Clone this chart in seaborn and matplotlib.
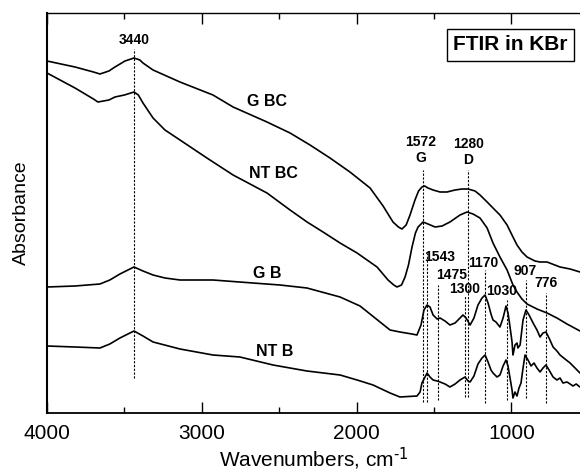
import numpy as np
import pandas as pd
import matplotlib
matplotlib.use("Agg")
import matplotlib.pyplot as plt
from matplotlib.ticker import MultipleLocator, NullLocator
import seaborn as sns

# ---------------- data ----------------
gbc_wn = [4000, 3819, 3700, 3658, 3600, 3561, 3496, 3438, 3400, 3380, 3315, 3141, 2928, 2798,
          2579, 2430, 2301, 2172, 2043, 1913, 1829, 1765, 1730, 1707, 1680, 1655, 1623, 1600,
          1578, 1560, 1539, 1506, 1461, 1416, 1364, 1319, 1280, 1235, 1203, 1157, 1119, 1074,
          1028, 990, 964, 932, 899, 848, 815, 770, 686, 621, 557]
gbc_ab = [352, 346, 341, 339, 342, 346, 352, 355, 353, 350, 343, 331, 318, 306,
          291, 280, 268, 255, 241, 225, 207, 191, 186, 184, 188, 198, 213, 222,
          226, 227, 225, 223, 221, 221, 223, 224, 224, 222, 218, 211, 205, 198,
          188, 176, 168, 161, 156, 152, 151, 151, 146, 144, 141]

ntbc_wn = [4000, 3819, 3700, 3671, 3600, 3561, 3500, 3438, 3410, 3380, 3315, 3238, 3141, 2967,
           2798, 2579, 2430, 2320, 2217, 2107, 1997, 1868, 1797, 1760, 1739, 1710, 1687, 1665,
           1642, 1620, 1603, 1571, 1539, 1493, 1448, 1397, 1332, 1287, 1248, 1203, 1157, 1119,
           1074, 1028, 990, 964, 932, 899, 835, 770, 706, 641, 557]
ntbc_ab = [340, 325, 314, 311, 313, 316, 318, 321, 318, 310, 295, 283, 273, 255,
           238, 220, 203, 191, 181, 170, 160, 146, 133, 128, 126, 128, 136, 148,
           166, 180, 186, 191, 189, 186, 187, 191, 198, 201, 199, 195, 185, 170,
           156, 143, 128, 121, 114, 109, 104, 100, 95, 89, 82]

gb_wn = [4000, 3819, 3658, 3594, 3529, 3438, 3380, 3315, 3238, 3141, 2928, 2670, 2495, 2321,
         2107, 1978, 1881, 1784, 1720, 1643, 1610, 1584, 1565, 1545, 1526, 1506, 1480, 1461,
         1429, 1397, 1364, 1332, 1313, 1293, 1267, 1242, 1216, 1190, 1170, 1151, 1132, 1119,
         1100, 1074, 1054, 1035, 1022, 1009, 996, 990, 977, 964, 958, 944, 925, 906, 886, 860,
         835, 815, 796, 777, 757, 731, 706, 686, 654, 621, 589, 557]
gb_ab = [126, 127, 129, 133, 139, 146, 142, 138, 135, 133, 133, 130, 128, 125,
         116, 107, 95, 83, 81, 79, 78, 88, 103, 108, 106, 98, 94, 95,
         92, 88, 90, 95, 98, 95, 88, 95, 108, 115, 118, 110, 99, 93,
         91, 86, 95, 107, 100, 86, 71, 58, 68, 70, 65, 68, 93, 103, 98, 90,
         83, 76, 80, 81, 75, 66, 62, 58, 54, 50, 45, 40]

ntb_wn = [4000, 3819, 3658, 3594, 3529, 3438, 3380, 3315, 3141, 2928, 2754, 2540, 2321, 2107,
          1997, 1894, 1784, 1720, 1610, 1590, 1578, 1558, 1545, 1526, 1506, 1480, 1461, 1429,
          1397, 1364, 1332, 1300, 1280, 1267, 1242, 1216, 1190, 1170, 1151, 1132, 1119, 1093,
          1074, 1054, 1035, 1022, 1009, 996, 990, 977, 964, 951, 938, 925, 912, 893, 873, 854,
          835, 815, 796, 777, 757, 731, 706, 686, 667, 641, 621, 602, 582, 557]
ntb_ab = [67, 66, 65, 69, 75, 82, 77, 71, 64, 58, 56, 48, 42, 38,
          33, 28, 20, 16, 17, 21, 30, 36, 40, 36, 33, 32, 31, 29,
          26, 29, 33, 36, 32, 31, 37, 49, 55, 58, 51, 43, 40, 36,
          38, 47, 53, 47, 35, 23, 15, 21, 17, 25, 30, 45, 58, 53, 47, 50,
          45, 41, 45, 48, 43, 36, 33, 35, 30, 31, 29, 27, 29, 26]

series_names = ["G BC", "NT BC", "G B", "NT B"]

# peak markers: wavenumber, top / bottom of dashed line
peak_wn = [3440, 1572, 1543, 1475, 1300, 1280, 1170, 1030, 907, 776]
peak_top = [364, 243, 160, 128, 118, 243, 143, 113, 133, 120]
peak_bot = [35, 11, 11, 13, 16, 16, 10, 13, 15, 10]

# peak labels: text, wavenumber, absorbance position
plabel_txt = ["3440", "1572\nG", "1280\nD", "1543", "1475", "1300", "1170", "1030", "907", "776"]
plabel_wn = [3438, 1584, 1280, 1461, 1384, 1300, 1183, 1061, 912, 777]
plabel_ab = [373, 263, 261, 156, 138, 124, 150, 122, 142, 130]

# curve labels
clabel_txt = ["G BC", "NT BC", "G B", "NT B"]
clabel_wn = [2579, 2540, 2579, 2528]
clabel_ab = [311, 240, 140, 61]

# ---------------- build long table ----------------
frames = []
for name, wn, ab in zip(series_names, [gbc_wn, ntbc_wn, gb_wn, ntb_wn],
                        [gbc_ab, ntbc_ab, gb_ab, ntb_ab]):
    frames.append(pd.DataFrame({"wn": wn, "ab": ab, "sample": name}))
df = pd.concat(frames, ignore_index=True)

sns.set_theme(style="ticks")
plt.rcParams["font.family"] = ["Liberation Sans", "DejaVu Sans"]
plt.rcParams["text.color"] = "black"
plt.rcParams["axes.labelcolor"] = "black"
plt.rcParams["xtick.color"] = "black"
plt.rcParams["ytick.color"] = "black"
plt.rcParams["mathtext.default"] = "regular"

fig = plt.figure(figsize=(5.8, 4.72), dpi=100)
ax = fig.add_axes([47 / 580, 1 - 413 / 472, 1 - 47 / 580, (413 - 13) / 472])

sns.lineplot(data=df, x="wn", y="ab", units="sample", estimator=None,
             color="black", linewidth=1.2, ax=ax, legend=False)

for w, t, b in zip(peak_wn, peak_top, peak_bot):
    ax.plot([w, w], [b, t], color="black", linewidth=0.8, linestyle=(0, (2, 1.4)))

for t, w, a in zip(plabel_txt, plabel_wn, plabel_ab):
    ax.text(w, a, t, ha="center", va="center", fontsize=10, fontweight="bold",
            linespacing=1.25, color="black")

for t, w, a in zip(clabel_txt, clabel_wn, clabel_ab):
    ax.text(w, a, t, ha="center", va="center", fontsize=11.5, fontweight="bold",
            color="black")

ax.set_xlim(4000, 557)
ax.set_ylim(0, 400)
ax.xaxis.set_major_locator(MultipleLocator(1000))
ax.xaxis.set_minor_locator(MultipleLocator(500))
ax.yaxis.set_major_locator(NullLocator())
ax.yaxis.set_minor_locator(NullLocator())
ax.tick_params(axis="x", which="both", direction="in", top=True, bottom=True,
               labelsize=15, colors="black", labelcolor="black", pad=8)
ax.tick_params(axis="x", which="major", length=8, width=1)
ax.tick_params(axis="x", which="minor", length=4, width=1)

for s in ["left", "bottom", "top"]:
    ax.spines[s].set_visible(True)
    ax.spines[s].set_color("black")
ax.spines["left"].set_linewidth(1.5)
ax.spines["bottom"].set_linewidth(1.3)
ax.spines["top"].set_linewidth(1.0)
ax.spines["right"].set_visible(False)

ax.set_xlabel(r"Wavenumbers, cm$^{\text{-1}}$", fontsize=15, labelpad=2, color="black")
ax.set_ylabel("Absorbance", fontsize=14, labelpad=12, color="black")

fig.text(510 / 580, 1 - 45 / 472, "FTIR in KBr", ha="center", va="center",
         fontsize=15, fontweight="bold", color="black",
         bbox=dict(boxstyle="square,pad=0.3", facecolor="white", edgecolor="black",
                   linewidth=1.0))

fig.savefig("out.png", dpi=100)
